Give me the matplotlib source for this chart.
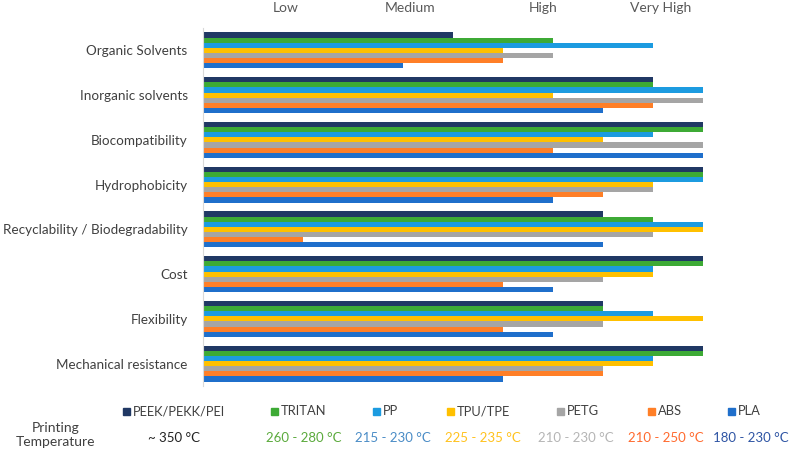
import matplotlib.pyplot as plt
from matplotlib.patches import Rectangle
import numpy as np

plt.rcParams['font.family'] = ['Lato', 'DejaVu Sans']

categories = ['Organic Solvents', 'Inorganic solvents', 'Biocompatibility', 'Hydrophobicity',
              'Recyclability / Biodegradability', 'Cost', 'Flexibility', 'Mechanical resistance']
materials = ['PEEK/PEKK/PEI', 'TRITAN', 'PP', 'TPU/TPE', 'PETG', 'ABS', 'PLA']
temps = ['~ 350 °C', '260 - 280 °C', '215 - 230 °C', '225 - 235 °C', '210 - 230 °C', '210 - 250 °C', '180 - 230 °C']

# one list per material, in category order (0 = none, 10 = very high)
peek = [5, 9, 10, 10, 8, 10, 8, 10]
tritan = [7, 9, 10, 10, 9, 10, 8, 10]
pp = [9, 10, 9, 10, 10, 9, 9, 9]
tpu = [6, 7, 8, 9, 10, 9, 10, 9]
petg = [7, 10, 10, 9, 9, 8, 8, 8]
abs_ = [6, 9, 7, 8, 2, 6, 6, 8]
pla = [4, 8, 10, 7, 8, 7, 7, 6]
series = [peek, tritan, pp, tpu, petg, abs_, pla]

level_names = ['Low', 'Medium', 'High', 'Very High']
level_pos = [1.64, 4.1, 6.75, 9.07]

colors = ['#203864', '#3DAA35', '#1C9BE0', '#FFC000', '#A5A5A5', '#FF7F27', '#1F6FCB']
temp_colors = ['#222222', '#5BAA3C', '#4A8CC6', '#FFC21E', '#B5B5B5', '#FF6A2E', '#2F55A4']

fig = plt.figure(figsize=(7.89, 4.53), dpi=100)
ax = fig.add_axes([203 / 789, 1 - 386 / 453, 515 / 789, 358 / 453])

n = len(series)
h = 0.8 / n
y = np.arange(len(categories))
for i, vals in enumerate(series):
    ax.barh(y - 0.4 + h * (i + 0.5), vals, height=h, color=colors[i], linewidth=0)

ax.set_ylim(len(categories) - 0.5, -0.5)
ax.set_xlim(0, 10.3)
ax.set_yticks(y)
ax.set_yticklabels(categories, fontsize=9.7, color='#404040')
ax.tick_params(axis='y', length=0, pad=11)
ax.set_xticks([])
for s in ['top', 'right', 'bottom']:
    ax.spines[s].set_visible(False)
ax.spines['left'].set_color('#D9D9D9')

for name, pos in zip(level_names, level_pos):
    x = (203 + pos * 50.4) / 789
    fig.text(x, 1 - 8 / 453, name, ha='center', va='center', fontsize=10, color='#595959')

# legend row + printing temperature row
sq_x = [126, 274, 376, 450, 560, 651, 731]
temp_x = [174, 304, 393, 483, 576, 666, 751]
for i in range(n):
    fig.patches.append(Rectangle(((sq_x[i] - 3.5) / 789, 1 - 414.5 / 453), 7 / 789, 7 / 453,
                                 transform=fig.transFigure, color=colors[i]))
    fig.text((sq_x[i] + 7) / 789, 1 - 411 / 453, materials[i], ha='left', va='center',
             fontsize=9.3, color='#404040')
    fig.text(temp_x[i] / 789, 1 - 438 / 453, temps[i], ha='center', va='center',
             fontsize=9.5, color=temp_colors[i])

fig.text(56 / 789, 1 - 435 / 453, 'Printing\nTemperature', ha='center', va='center',
         fontsize=10, color='#404040', linespacing=1.3)

fig.savefig('out.png', dpi=100)
